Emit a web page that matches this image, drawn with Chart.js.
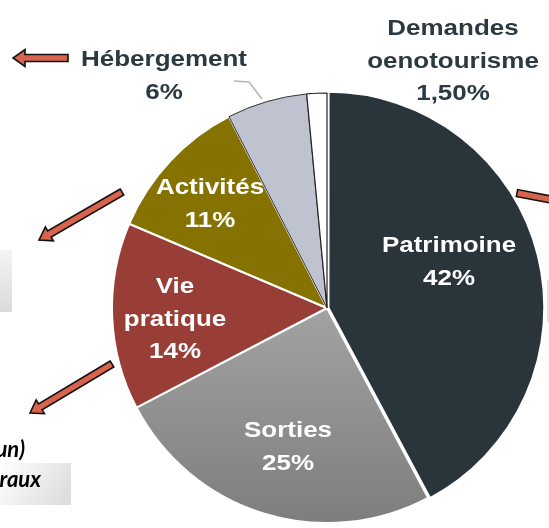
<!DOCTYPE html>
<html>
<head>
<meta charset="utf-8">
<script src="https://cdn.jsdelivr.net/npm/chart.js@4"></script>
<style>
  html, body { margin: 0; padding: 0; background: #fff; }
</style>
</head>
<body>
<canvas id="pie" width="549" height="528"></canvas>
<script>
// chart data
const categories = [['Patrimoine'], ['Sorties'], ['Vie', 'pratique'], ['Activités'], ['Hébergement'], ['Demandes', 'oenotourisme']];
const shares = [42, 25, 14, 11, 6, 1.5];
const shareLabels = ['42%', '25%', '14%', '11%', '6%', '1,50%'];

// looks
const sliceColors = ['#2a353b', '#8c8c8c', '#983e36', '#857200', '#bfc2cf', '#ffffff'];
const labelSpots = [
  { x: 449, y: 252, color: '#ffffff' },
  { x: 288, y: 437, color: '#ffffff' },
  { x: 175, y: 293, color: '#ffffff' },
  { x: 210, y: 194, color: '#ffffff' },
  { x: 164, y: 66, color: '#2c3940' },
  { x: 453, y: 35, color: '#2c3940' }
];

function arrow(ctx, x1, y1, x2, y2, w, hw, hl) {
  const len = Math.hypot(x2 - x1, y2 - y1);
  const ux = (x2 - x1) / len, uy = (y2 - y1) / len;
  const nx = -uy, ny = ux;
  const mx = x2 - ux * hl, my = y2 - uy * hl;
  ctx.beginPath();
  ctx.moveTo(x1 + nx * w / 2, y1 + ny * w / 2);
  ctx.lineTo(mx + nx * w / 2, my + ny * w / 2);
  ctx.lineTo(mx + nx * hw / 2, my + ny * hw / 2);
  ctx.lineTo(x2, y2);
  ctx.lineTo(mx - nx * hw / 2, my - ny * hw / 2);
  ctx.lineTo(mx - nx * w / 2, my - ny * w / 2);
  ctx.lineTo(x1 - nx * w / 2, y1 - ny * w / 2);
  ctx.closePath();
  ctx.fillStyle = '#d8644d';
  ctx.fill();
  ctx.lineWidth = 1.6;
  ctx.strokeStyle = '#111';
  ctx.stroke();
}

function stretchedText(ctx, txt, x, y) {
  ctx.save();
  ctx.translate(x, y);
  ctx.scale(1.18, 1);
  ctx.fillText(txt, 0, 0);
  ctx.restore();
}

const extras = {
  id: 'extras',
  beforeDraw: (chart) => {
    const { ctx } = chart;
    ctx.save();
    // bits of the slide around the pie
    let g = ctx.createLinearGradient(0, 250, 0, 312);
    g.addColorStop(0, '#f4f4f4'); g.addColorStop(1, '#dadada');
    ctx.fillStyle = g;
    ctx.fillRect(0, 250, 12, 62);
    g = ctx.createLinearGradient(0, 463, 60, 505);
    g.addColorStop(0, '#ffffff'); g.addColorStop(1, '#dedede');
    ctx.fillStyle = g;
    ctx.fillRect(0, 463, 71, 42);
    ctx.fillStyle = '#e2e2e2';
    ctx.fillRect(547, 280, 2, 42);
    ctx.fillStyle = '#000';
    ctx.font = 'italic bold 22px Lato';
    ctx.textAlign = 'right';
    ctx.fillText('un)', 25, 457);
    ctx.fillText('raux', 41, 487);
    ctx.restore();
  },
  afterDatasetsDraw: (chart) => {
    const { ctx } = chart;
    ctx.save();
    // leader line for Hébergement
    ctx.beginPath();
    ctx.moveTo(234, 81);
    ctx.lineTo(249, 82);
    ctx.lineTo(262, 99);
    ctx.strokeStyle = '#b5b5b5';
    ctx.lineWidth = 1.5;
    ctx.stroke();

    ctx.font = 'bold 22px "Liberation Sans", Arial, sans-serif';
    ctx.textAlign = 'center';
    ctx.textBaseline = 'alphabetic';
    categories.forEach((lines, i) => {
      const spot = labelSpots[i];
      ctx.fillStyle = spot.color;
      const all = lines.concat([shareLabels[i]]);
      all.forEach((t, k) => stretchedText(ctx, t, spot.x, spot.y + k * 32.5));
    });

    arrow(ctx, 68, 58, 13, 58, 7, 17, 12);
    arrow(ctx, 122, 192, 39, 240, 7, 16, 12);
    arrow(ctx, 112, 364, 30, 413, 7, 16, 12);
    arrow(ctx, 517, 193, 600, 209, 7, 16, 12);
    ctx.restore();
  }
};

new Chart(document.getElementById('pie'), {
  type: 'pie',
  data: {
    labels: categories.map(c => c.join(' ')),
    datasets: [{
      data: shares,
      backgroundColor: (c) => {
        if (c.dataIndex !== 1) return sliceColors[c.dataIndex];
        const g = c.chart.ctx.createLinearGradient(0, 310, 0, 528);
        g.addColorStop(0, '#a2a2a2');
        g.addColorStop(1, '#7d7d7d');
        return g;
      },
      borderColor: ['#ffffff', '#ffffff', '#ffffff', '#ffffff', '#333333', '#222222'],
      borderWidth: [2, 2, 2, 2, 1, 1.2],
      offset: [6, 0, 0, 0, 0, 0],
      hoverOffset: 0,
      radius: 215
    }]
  },
  options: {
    responsive: false,
    animation: false,
    layout: { padding: { top: 89, bottom: 1, left: 108, right: 3 } },
    plugins: {
      legend: { display: false },
      tooltip: { enabled: false }
    }
  },
  plugins: [extras]
});
</script>
</body>
</html>
